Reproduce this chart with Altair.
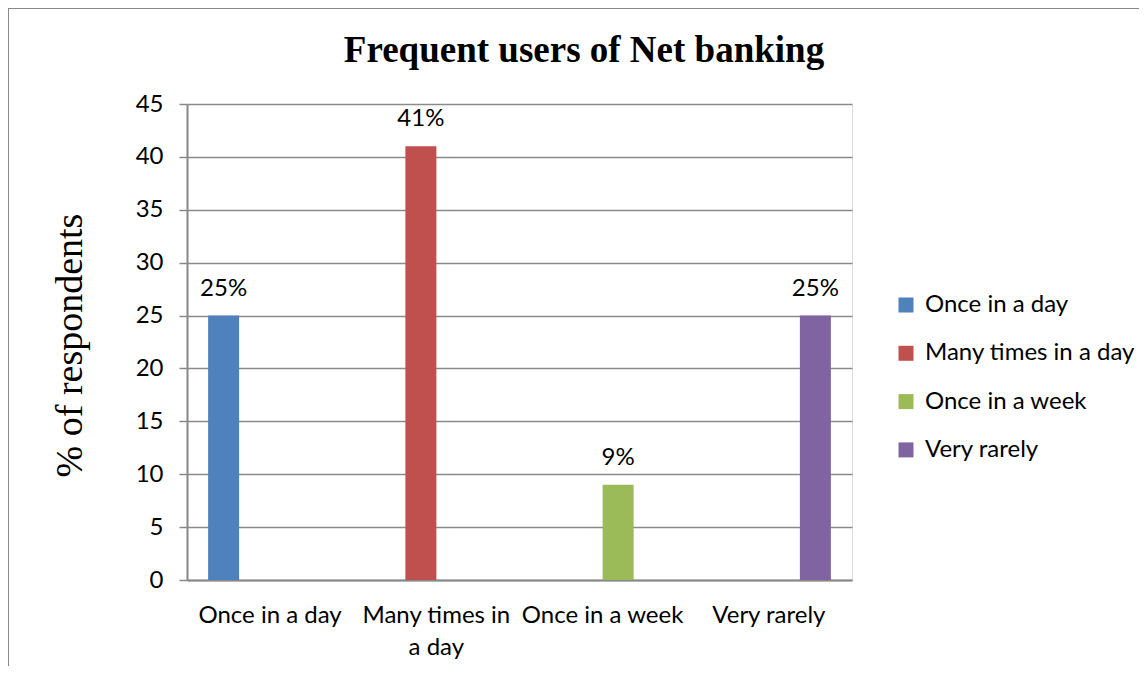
import altair as alt
import pandas as pd

title_text = "Frequent users of Net banking"
categories = ["Once in a day", "Many times in a day", "Once in a week", "Very rarely"]
values = [25, 41, 9, 25]
labels = ["25%", "41%", "9%", "25%"]
colors = ["#4F81BD", "#C0504D", "#9BBB59", "#8064A2"]
y_ticks = [0, 5, 10, 15, 20, 25, 30, 35, 40, 45]

df = pd.DataFrame({"category": categories, "series": categories, "value": values, "label": labels})

SANS = "Lato"
SERIF = "Liberation Serif"

x = alt.X("category:N", sort=categories,
          scale=alt.Scale(paddingInner=0.254, paddingOuter=0.127),
          axis=alt.Axis(title=None, labelAngle=0, ticks=False, labelFont=SANS, labelFontSize=24,
                        labelColor="#000", labelPadding=23, labelLineHeight=32, labelLimit=400,
                        labelExpr="datum.value == 'Many times in a day' ? ['Many times in', 'a day'] : datum.value",
                        domainColor="#888", domainWidth=2))
xoff = alt.XOffset("series:N", sort=categories, scale=alt.Scale(domain=categories, paddingInner=0, paddingOuter=0))
y = alt.Y("value:Q", scale=alt.Scale(domain=[0, 45], nice=False),
          axis=alt.Axis(values=y_ticks, title="% of respondents", titleFont=SERIF, titleFontSize=38,
                        titleFontWeight="normal", titleColor="#000", titleAngle=-90,
                        titleX=-117, titleY=241, titleAlign="center", titleBaseline="middle",
                        labelFont=SANS, labelFontSize=24, labelColor="#000", labelPadding=16,
                        tickSize=8, tickColor="#888", tickWidth=1.5, domainColor="#888", domainWidth=2,
                        grid=True, gridColor="#8a8a8a", gridWidth=1.5))

bars = alt.Chart(df).mark_bar().encode(
    x=x, xOffset=xoff, y=y,
    color=alt.Color("series:N", sort=categories,
                    scale=alt.Scale(domain=categories, range=colors),
                    legend=alt.Legend(title=None, orient="none", legendX=707, legendY=189,
                                      symbolType="square", symbolSize=225, symbolStrokeWidth=0,
                                      labelFont=SANS, labelFontSize=24, labelColor="#000",
                                      labelLimit=400, labelOffset=7, rowPadding=24.3, padding=0)),
)

text = alt.Chart(df).mark_text(font=SANS, fontSize=24, color="#000", baseline="alphabetic", dy=-20).encode(
    x=x, xOffset=xoff, y=y, text="label:N"
)

border_v = alt.Chart(df).mark_rule(color="#888", strokeWidth=2).encode(
    x=alt.value(-179), y=alt.value(-96), y2=alt.value(600))
border_h = alt.Chart(df).mark_rule(color="#888", strokeWidth=2).encode(
    x=alt.value(-179), x2=alt.value(960), y=alt.value(-96))

title = alt.Chart(df).transform_filter(alt.datum.category == categories[0]).mark_text(
    text=title_text, font=SERIF, fontSize=37, fontWeight="bold", color="#000",
    align="center", baseline="alphabetic").encode(x=alt.value(397), y=alt.value(-42))

chart = alt.layer(border_v, border_h, title, bars, text).properties(
    width=665, height=476,
    autosize=alt.AutoSizeParams(type="none"),
    padding={"left": 179, "top": 96, "right": 287, "bottom": 86},
).configure_view(stroke=None).configure(background="white")

chart.save("out.html", embed_options={"renderer": "svg", "actions": False})
